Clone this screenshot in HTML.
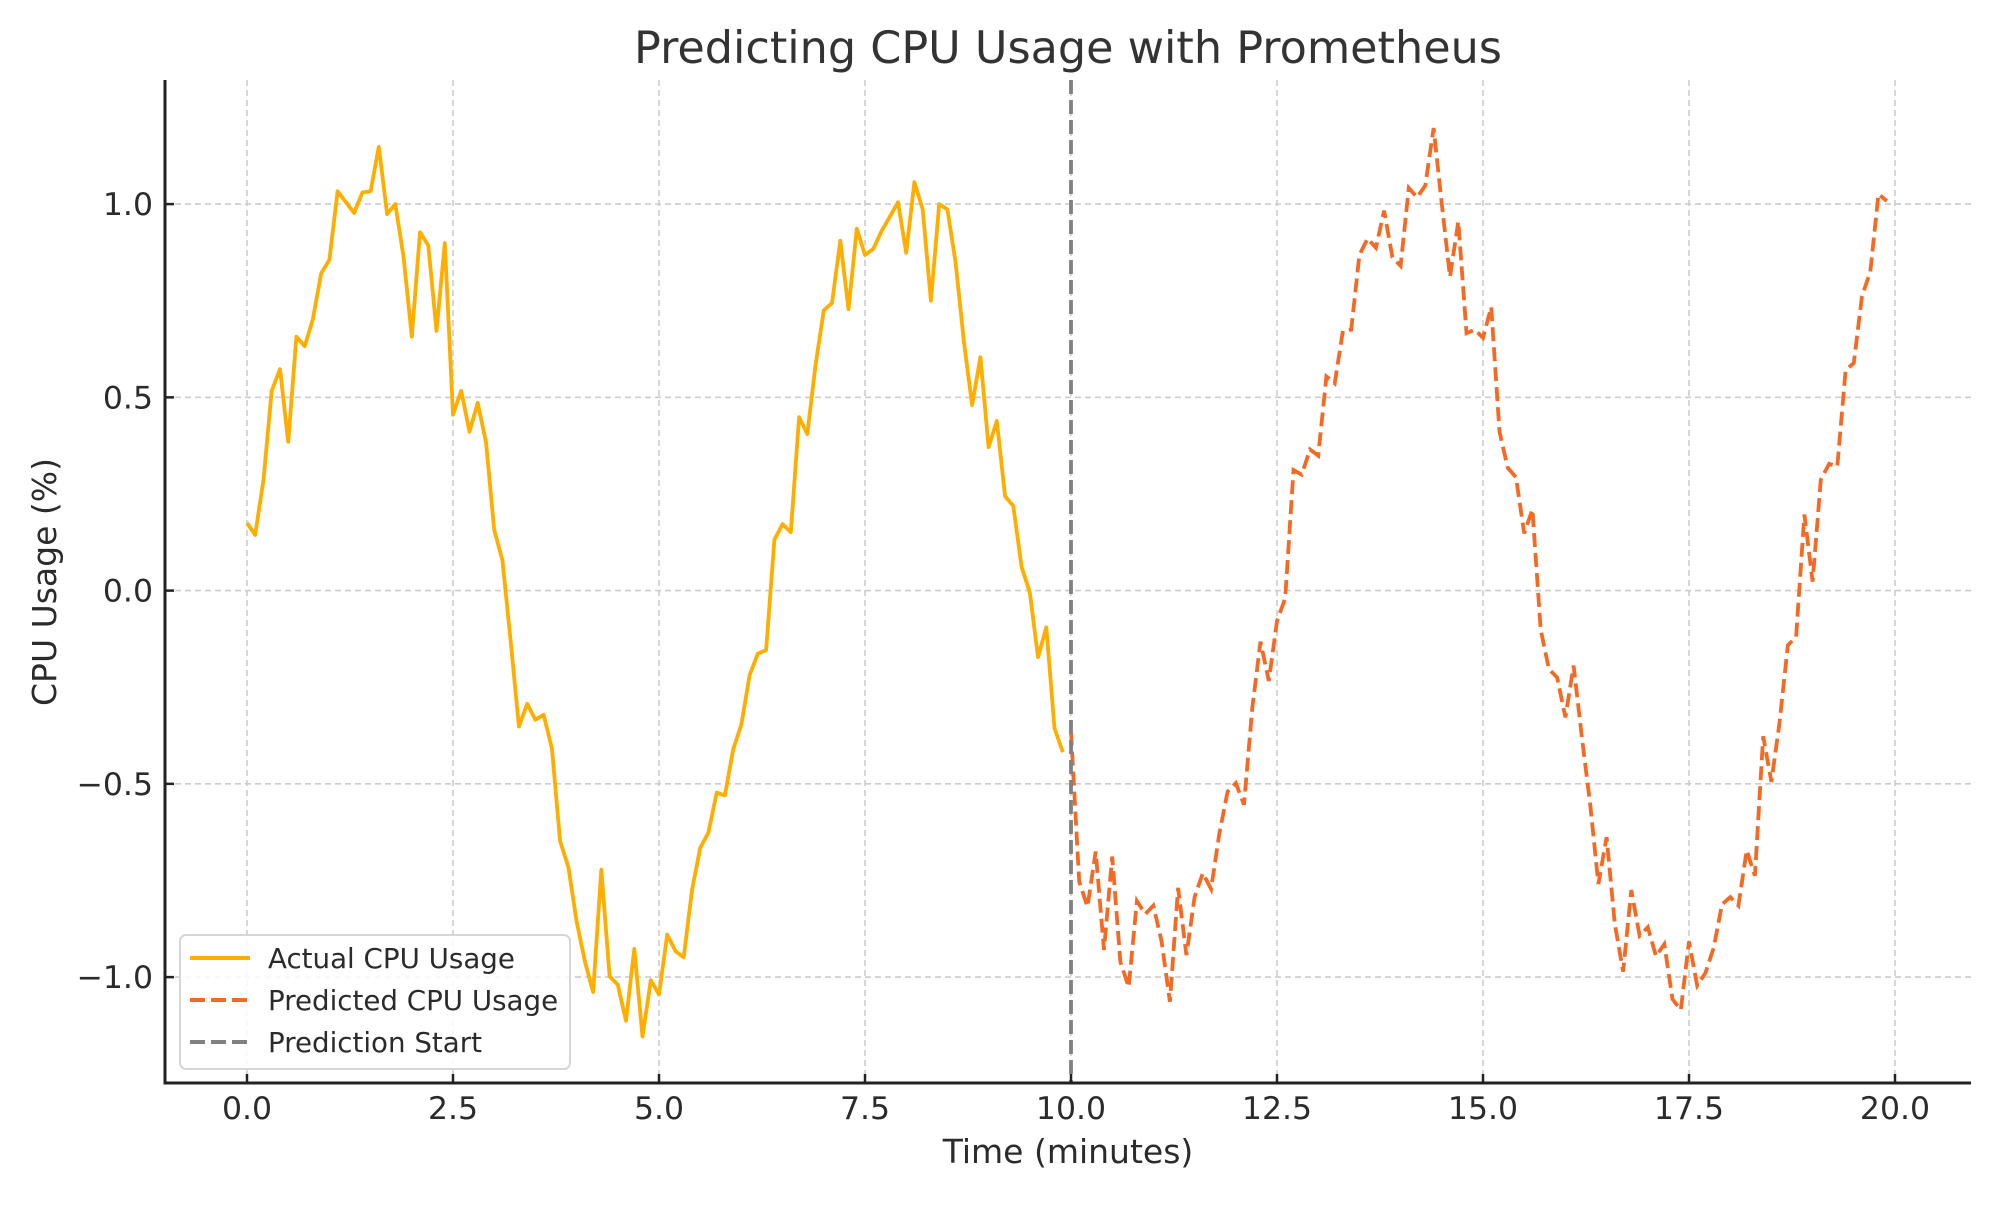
<!DOCTYPE html>
<html><head><meta charset="utf-8"><style>
html,body{margin:0;padding:0;background:#fff;}
svg text{font-family:"DejaVu Sans","Liberation Sans",sans-serif;fill:#2b2b2b;}
</style></head><body>
<svg id="chart" width="2000" height="1200" viewBox="0 0 2000 1200" xmlns="http://www.w3.org/2000/svg">
<rect width="2000" height="1200" fill="#fff"/>
<g id="grid"></g>
<g id="series"></g>
<g id="axes"></g>
<text x="1068" y="63" font-size="44.5" text-anchor="middle" style="fill:#333">Predicting CPU Usage with Prometheus</text>
<text x="1068" y="1163" font-size="33" text-anchor="middle">Time (minutes)</text>
<text x="0" y="0" font-size="33" text-anchor="middle" transform="translate(56,582) rotate(-90)">CPU Usage (%)</text>
<g>
<rect x="180" y="935" width="390" height="134" rx="6" fill="#fff" fill-opacity="0.85" stroke="#d6d6d6" stroke-width="2"/>
<line x1="190" y1="958" x2="250" y2="958" stroke="#FFAE00" stroke-width="4"/>
<text x="268" y="968" font-size="27.7">Actual CPU Usage</text>
<line x1="190" y1="1000" x2="250" y2="1000" stroke="#F46A25" stroke-width="4" stroke-dasharray="15,6"/>
<text x="268" y="1010" font-size="27.7">Predicted CPU Usage</text>
<line x1="190" y1="1042" x2="250" y2="1042" stroke="#808080" stroke-width="4" stroke-dasharray="15,6"/>
<text x="268" y="1052" font-size="27.7">Prediction Start</text>
</g>
</svg>
<script>
const actualValues=[0.175,0.144,0.287,0.517,0.573,0.385,0.657,0.632,0.703,0.821,0.856,1.033,1.005,0.977,1.03,1.033,1.148,0.974,1.0,0.862,0.657,0.927,0.893,0.672,0.899,0.455,0.517,0.411,0.486,0.384,0.157,0.079,-0.132,-0.352,-0.293,-0.334,-0.321,-0.408,-0.648,-0.716,-0.856,-0.958,-1.039,-0.722,-0.998,-1.02,-1.113,-0.927,-1.154,-1.008,-1.045,-0.89,-0.933,-0.949,-0.775,-0.666,-0.626,-0.523,-0.53,-0.411,-0.346,-0.219,-0.163,-0.154,0.132,0.172,0.151,0.449,0.405,0.585,0.725,0.744,0.905,0.728,0.936,0.868,0.884,0.93,0.967,1.005,0.874,1.057,0.986,0.75,1.0,0.986,0.849,0.644,0.48,0.604,0.371,0.439,0.244,0.219,0.061,-0.005,-0.172,-0.095,-0.356,-0.418];
const predictedValues=[-0.365,-0.753,-0.818,-0.675,-0.93,-0.688,-0.961,-1.026,-0.803,-0.837,-0.815,-0.908,-1.064,-0.769,-0.943,-0.793,-0.731,-0.772,-0.629,-0.52,-0.498,-0.554,-0.303,-0.132,-0.234,-0.079,-0.02,0.312,0.3,0.365,0.349,0.554,0.536,0.672,0.675,0.868,0.911,0.887,0.983,0.862,0.84,1.042,1.017,1.048,1.197,1.0,0.812,0.955,0.666,0.675,0.654,0.734,0.411,0.318,0.293,0.148,0.21,-0.101,-0.203,-0.225,-0.328,-0.194,-0.38,-0.551,-0.759,-0.638,-0.862,-0.986,-0.775,-0.893,-0.871,-0.946,-0.915,-1.057,-1.085,-0.908,-1.022,-0.989,-0.924,-0.812,-0.793,-0.815,-0.672,-0.738,-0.377,-0.495,-0.34,-0.141,-0.12,0.197,0.023,0.287,0.328,0.321,0.57,0.589,0.762,0.825,1.026,1.008];
const actualStart=0, predictedStart=10, timeStep=0.1;
const predictionStart=10;
const xTicks=[0,2.5,5,7.5,10,12.5,15,17.5,20];
const xTickLabels=["0.0","2.5","5.0","7.5","10.0","12.5","15.0","17.5","20.0"];
const yTicks=[-1,-0.5,0,0.5,1];
const yTickLabels=["\u22121.0","\u22120.5","0.0","0.5","1.0"];

const L=165,R=1971,T=80,B=1083;
function xs(v){return 247+(v-0)*(1895-247)/20;}
function ys(v){return 590.6-v*386.5;}
const NS="http://www.w3.org/2000/svg";
function mk(tag,attrs,parent){const e=document.createElementNS(NS,tag);for(const k in attrs)e.setAttribute(k,attrs[k]);parent.appendChild(e);return e;}
const grid=document.getElementById('grid'),series=document.getElementById('series'),axes=document.getElementById('axes');
xTicks.forEach((t,i)=>{
  const g=mk('line',{x1:xs(t),x2:xs(t),y1:T,y2:B,stroke:'#cccccc','stroke-width':1.6,'stroke-dasharray':'6,4'},grid);
  
  
  const tk=mk('line',{x1:xs(t),x2:xs(t),y1:B,y2:B-9,stroke:'#222','stroke-width':2.5},axes);
  
  
  const lb=mk('text',{x:xs(t),y:1119,'font-size':31.5,'text-anchor':'middle'},axes);
  lb.textContent=xTickLabels[i];
  
  
});
yTicks.forEach((t,i)=>{
  const g=mk('line',{x1:L,x2:R,y1:ys(t),y2:ys(t),stroke:'#cccccc','stroke-width':1.6,'stroke-dasharray':'6,4'},grid);
  
  
  const tk=mk('line',{x1:L,x2:L+9,y1:ys(t),y2:ys(t),stroke:'#222','stroke-width':2.5},axes);
  
  
  const lb=mk('text',{x:153,y:ys(t)+11,'font-size':31.5,'text-anchor':'end'},axes);
  lb.textContent=yTickLabels[i];
  
  
});
function pts(vals,start){return vals.map((v,i)=>xs(start+i*timeStep).toFixed(1)+','+ys(v).toFixed(1)).join(' ');}
const a=mk('polyline',{points:pts(actualValues,actualStart),fill:'none',stroke:'#FFAE00','stroke-width':3.8,'stroke-linejoin':'round'},series);


const p=mk('polyline',{points:pts(predictedValues,predictedStart),fill:'none',stroke:'#F46A25','stroke-width':3.8,'stroke-dasharray':'14,6'},series);


const v=mk('line',{x1:xs(predictionStart),x2:xs(predictionStart),y1:T,y2:B,stroke:'#808080','stroke-width':3.8,'stroke-dasharray':'14,6'},series);


const sl=mk('line',{x1:L,x2:L,y1:T,y2:B+1.5,stroke:'#222','stroke-width':3},axes);


const sb=mk('line',{x1:L-1.5,x2:R,y1:B,y2:B,stroke:'#222','stroke-width':3},axes);


</script>
</body></html>
